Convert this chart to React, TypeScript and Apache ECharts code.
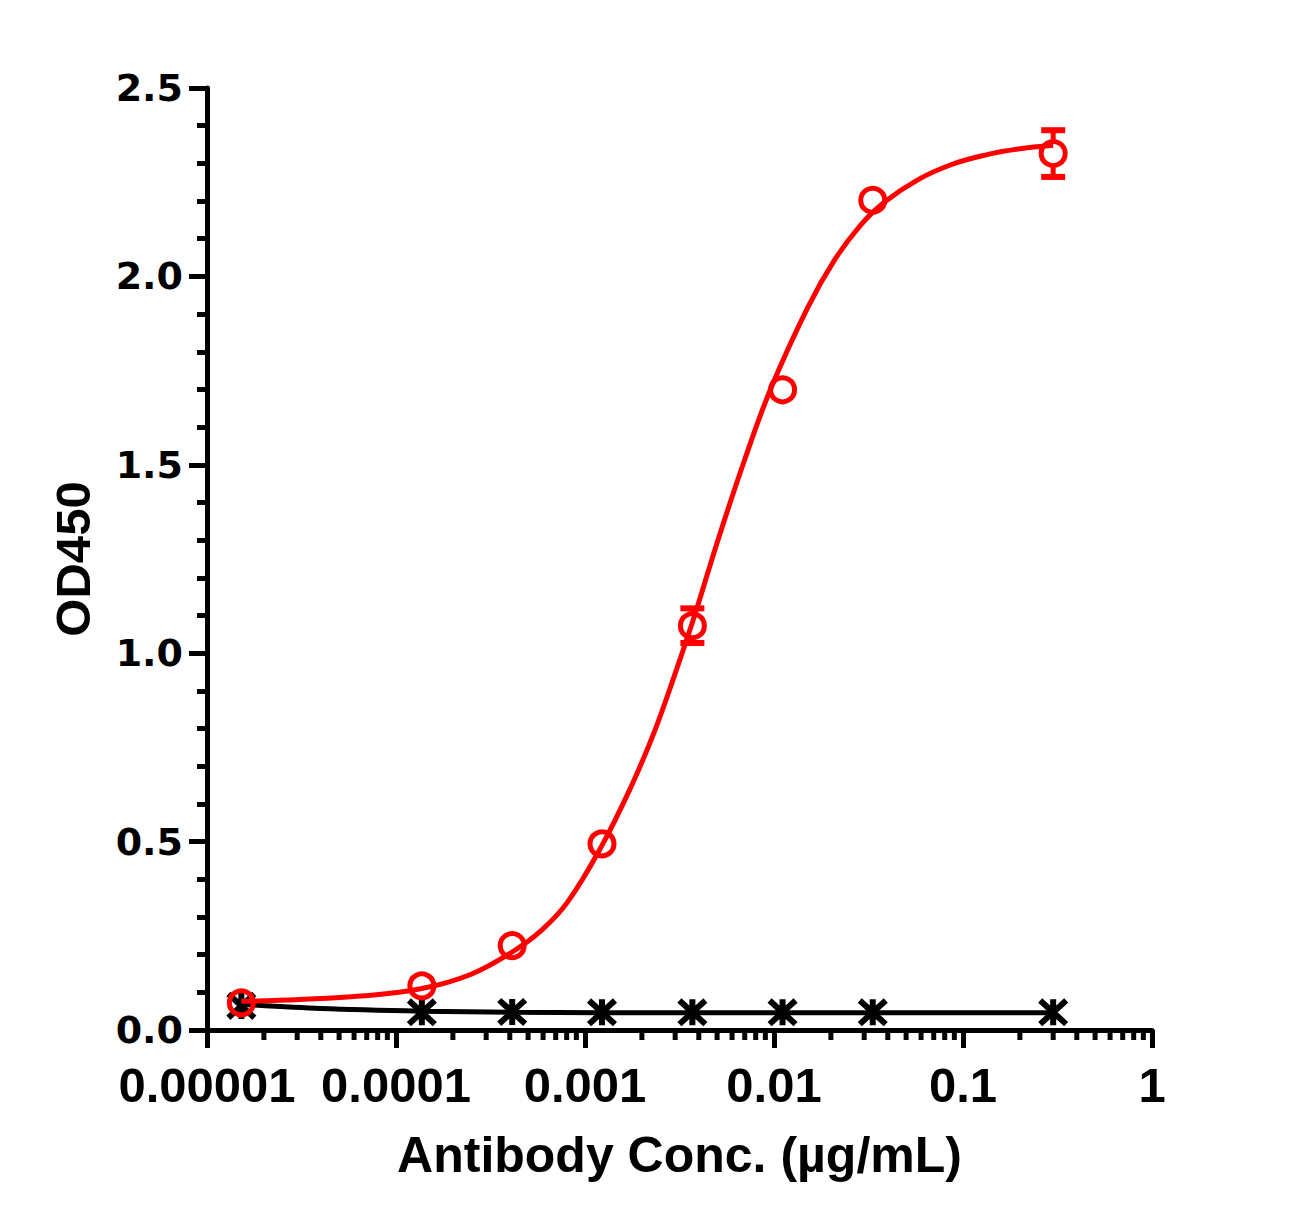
import { useEffect, useRef } from "react";
import * as echarts from "echarts";

// concentrations (µg/mL), 3-fold dilution series
const concentrations = [0.0000152, 0.000137, 0.000412, 0.00123, 0.0037, 0.0111, 0.0333, 0.3];
// red open circles: mean OD450 and error (SD)
const targetOD = [0.072, 0.117, 0.224, 0.494, 1.073, 1.699, 2.202, 2.326];
const targetErr = [0.005, 0.005, 0.008, 0.01, 0.046, 0.015, 0.01, 0.062];
// black asterisks: negative control
const controlOD = [0.064, 0.047, 0.048, 0.047, 0.047, 0.047, 0.047, 0.047];

// fitted curves
const targetFit: [number, number][] = [
  [0.0000152, 0.076],
  [0.000031, 0.081],
  [0.000065, 0.09],
  [0.000137, 0.11],
  [0.00025, 0.148],
  [0.000412, 0.207],
  [0.00059, 0.265],
  [0.00081, 0.34],
  [0.00123, 0.49],
  [0.00175, 0.645],
  [0.00233, 0.792],
  [0.00297, 0.94],
  [0.00379, 1.098],
  [0.00505, 1.3],
  [0.00698, 1.512],
  [0.00967, 1.705],
  [0.0151, 1.918],
  [0.021, 2.045],
  [0.0286, 2.135],
  [0.0386, 2.198],
  [0.0579, 2.257],
  [0.0871, 2.297],
  [0.131, 2.322],
  [0.196, 2.338],
  [0.3, 2.348],
];
const controlFit: [number, number][] = [
  [0.0000152, 0.068],
  [0.00004, 0.057],
  [0.000137, 0.05],
  [0.000412, 0.047],
  [0.00123, 0.046],
  [0.3, 0.046],
];

const xDecades = [0.00001, 0.0001, 0.001, 0.01, 0.1, 1];

const RED = "#ff0000";
const BLACK = "#000000";
const ARIAL = "'Liberation Sans', Arial, sans-serif";
const ASTERISK = "path://M0 0 L20 20 M20 0 L0 20 M10 -1 L10 21";

const App = () => {
  const chartRef = useRef<HTMLDivElement>(null);

  useEffect(() => {
    if (!chartRef.current) return;
    document.body.style.margin = "0";

    const chart = echarts.init(chartRef.current, null, { renderer: "svg" });

    const minorTicks: number[][] = [];
    xDecades.slice(0, -1).forEach((d) => {
      for (let k = 2; k <= 9; k++) minorTicks.push([d * k, 0]);
    });

    const option: echarts.EChartsOption = {
      animation: false,
      backgroundColor: "#ffffff",
      grid: {
        left: 207,
        right: 151,
        top: 88,
        bottom: 198,
        containLabel: false,
        outerBoundsMode: "none",
      } as any,
      xAxis: {
        type: "log",
        logBase: 10,
        min: 0.00001,
        max: 1,
        axisLine: { onZero: false, lineStyle: { color: BLACK, width: 5 } },
        axisTick: { length: 18, lineStyle: { color: BLACK, width: 5 } },
        splitLine: { show: false },
        axisLabel: {
          margin: 30,
          color: BLACK,
          fontFamily: ARIAL,
          fontWeight: "bold",
          fontSize: 49,
          formatter: (v: number) => {
            const e = Math.round(Math.log10(v));
            return e >= 0 ? String(Math.pow(10, e)) : Math.pow(10, e).toFixed(-e);
          },
        },
        name: "Antibody Conc. (µg/mL)",
        nameLocation: "middle",
        nameGap: 100,
        nameMoveOverlap: false,
        nameTextStyle: {
          color: BLACK,
          fontFamily: ARIAL,
          fontWeight: "bold",
          fontSize: 50,
        },
      } as any,
      yAxis: {
        type: "value",
        min: 0,
        max: 2.5,
        interval: 0.5,
        axisLine: { show: true, onZero: false, lineStyle: { color: BLACK, width: 5 } },
        axisTick: { show: true, length: 18, lineStyle: { color: BLACK, width: 5 } },
        minorTick: { show: true, splitNumber: 5, length: 10, lineStyle: { color: BLACK, width: 5 } },
        splitLine: { show: false },
        axisLabel: {
          margin: 24,
          color: BLACK,
          fontFamily: "'DejaVu Sans', sans-serif",
          fontWeight: "bold",
          fontSize: 38,
          formatter: (v: number) => v.toFixed(1),
        },
        name: "OD450",
        nameLocation: "middle",
        nameGap: 110,
        nameMoveOverlap: false,
        nameTextStyle: {
          color: BLACK,
          fontFamily: ARIAL,
          fontWeight: "bold",
          fontSize: 49,
        },
      } as any,
      series: [
        {
          // log-spaced minor ticks under the x axis
          type: "custom",
          coordinateSystem: "cartesian2d",
          clip: false,
          silent: true,
          z: 1,
          data: minorTicks,
          encode: { x: 0, y: 1 },
          renderItem: (_p: any, api: any) => {
            const pt = api.coord([api.value(0), 0]);
            return {
              type: "line",
              shape: { x1: pt[0], y1: pt[1], x2: pt[0], y2: pt[1] + 10 },
              style: { stroke: BLACK, lineWidth: 5 },
            };
          },
        },
        {
          type: "line",
          data: controlFit,
          showSymbol: false,
          smooth: 0.3,
          lineStyle: { color: BLACK, width: 5 },
          z: 2,
        },
        {
          type: "scatter",
          data: concentrations.map((c, i) => [c, controlOD[i]]),
          symbol: ASTERISK,
          symbolSize: 26,
          itemStyle: { color: "transparent", borderColor: BLACK, borderWidth: 6, opacity: 1 },
          z: 3,
        },
        {
          // error bars, drawn only outside the circle
          type: "custom",
          coordinateSystem: "cartesian2d",
          clip: false,
          silent: true,
          z: 4,
          data: concentrations.map((c, i) => [c, targetOD[i], targetErr[i]]),
          encode: { x: 0, y: 1 },
          renderItem: (_p: any, api: any) => {
            const x = api.value(0);
            const y = api.value(1);
            const e = api.value(2);
            const c = api.coord([x, y]);
            const top = api.coord([x, y + e]);
            const bot = api.coord([x, y - e]);
            const r = 14;
            const cap = 12;
            const style = { stroke: RED, lineWidth: 5 };
            if (c[1] - top[1] <= r) return { type: "group", children: [] };
            return {
              type: "group",
              children: [
                { type: "line", shape: { x1: c[0], y1: top[1], x2: c[0], y2: c[1] - r }, style },
                { type: "line", shape: { x1: c[0], y1: c[1] + r, x2: c[0], y2: bot[1] }, style },
                { type: "line", shape: { x1: c[0] - cap, y1: top[1], x2: c[0] + cap, y2: top[1] }, style: { stroke: RED, lineWidth: 6 } },
                { type: "line", shape: { x1: c[0] - cap, y1: bot[1], x2: c[0] + cap, y2: bot[1] }, style: { stroke: RED, lineWidth: 6 } },
              ],
            };
          },
        },
        {
          type: "scatter",
          data: concentrations.map((c, i) => [c, targetOD[i]]),
          symbol: "circle",
          symbolSize: 24,
          itemStyle: { color: "transparent", borderColor: RED, borderWidth: 5, opacity: 1 },
          z: 5,
        },
        {
          type: "line",
          data: targetFit,
          showSymbol: false,
          smooth: 0.4,
          lineStyle: { color: RED, width: 5 },
          z: 6,
        },
      ],
    };

    chart.setOption(option);

    return () => {
      chart.dispose();
    };
  }, []);

  return <div ref={chartRef} style={{ width: "1303px", height: "1228px" }} />;
};

export default App;
